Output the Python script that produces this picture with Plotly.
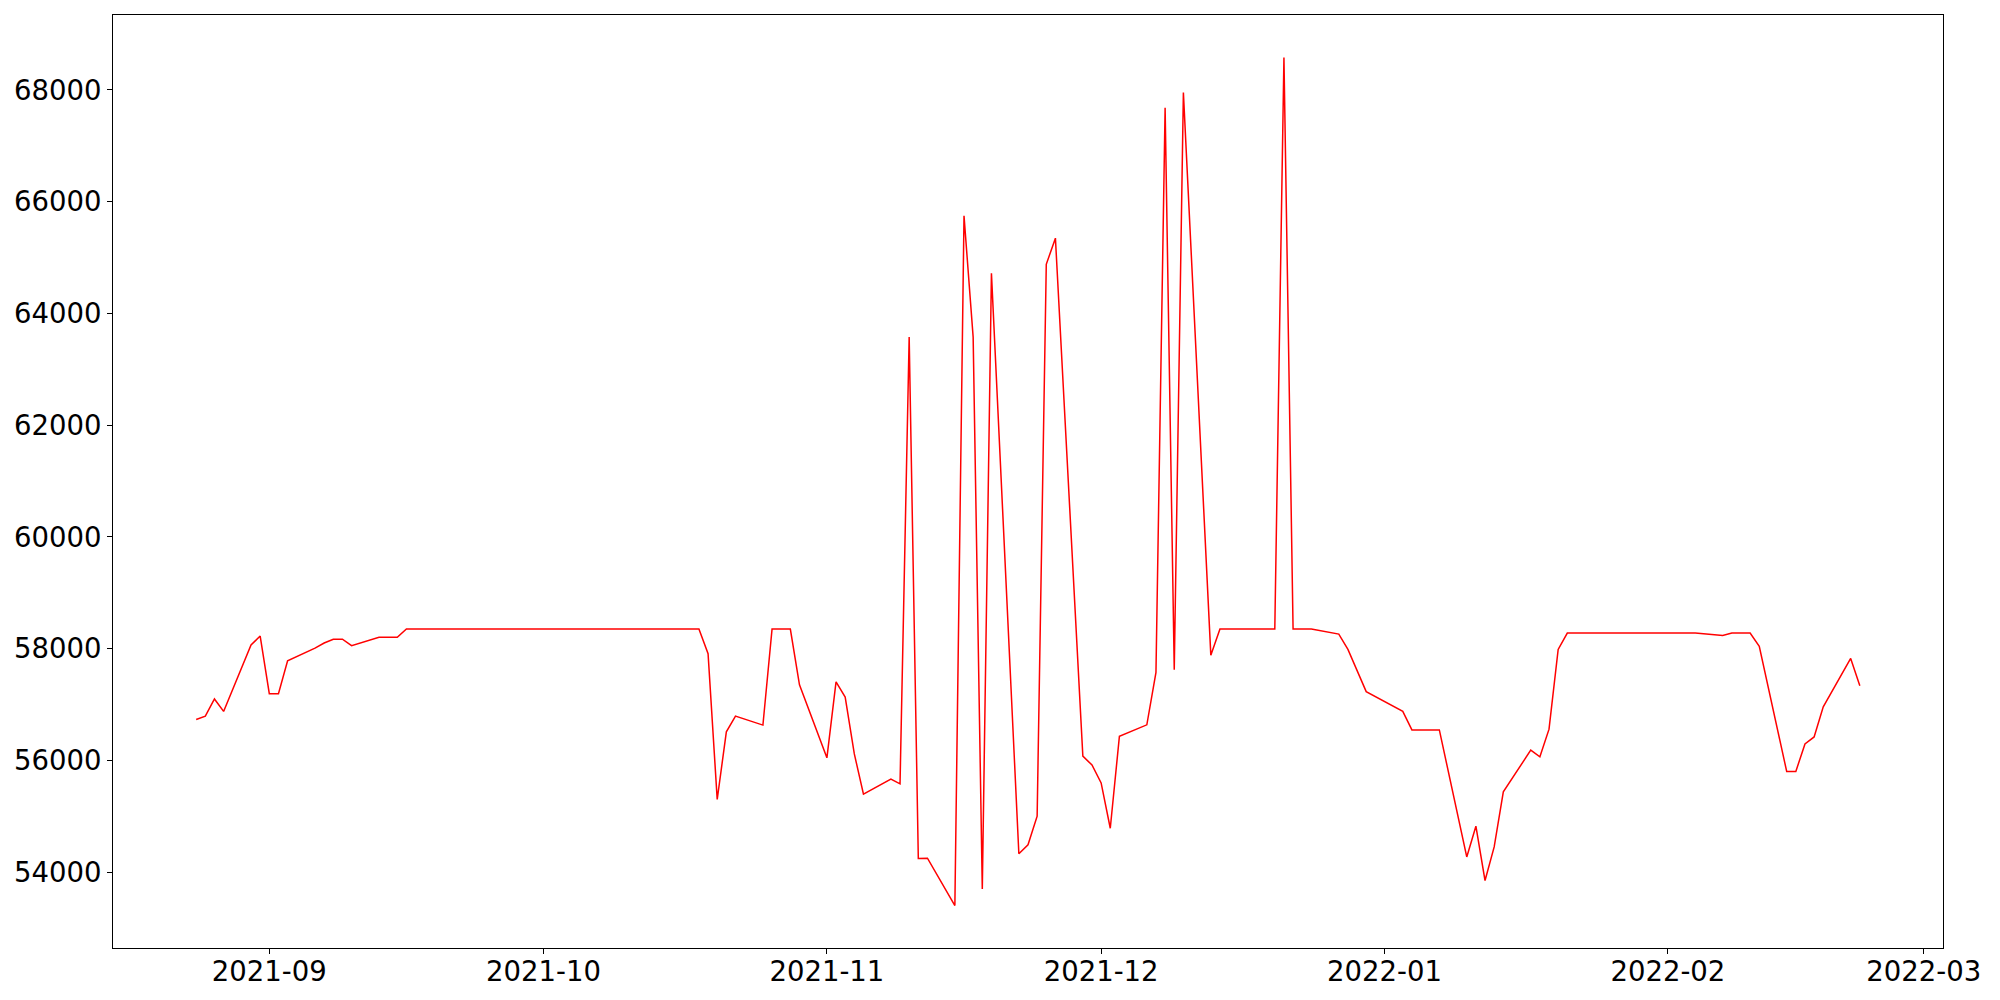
import pandas as pd
import plotly.graph_objects as go

dates = [
    "2021-08-24", "2021-08-25", "2021-08-26", "2021-08-27", "2021-08-30", "2021-08-31",
    "2021-09-01", "2021-09-02", "2021-09-03", "2021-09-06", "2021-09-07", "2021-09-08",
    "2021-09-09", "2021-09-10", "2021-09-13", "2021-09-14", "2021-09-15", "2021-09-16",
    "2021-09-17", "2021-09-20", "2021-09-21", "2021-09-22", "2021-09-23", "2021-09-24",
    "2021-09-27", "2021-09-28", "2021-09-29", "2021-09-30",
    "2021-10-01", "2021-10-04", "2021-10-05", "2021-10-06", "2021-10-07", "2021-10-08",
    "2021-10-11", "2021-10-12", "2021-10-13", "2021-10-14", "2021-10-15", "2021-10-18",
    "2021-10-19", "2021-10-20", "2021-10-21", "2021-10-22", "2021-10-25", "2021-10-26",
    "2021-10-27", "2021-10-28", "2021-10-29",
    "2021-11-01", "2021-11-02", "2021-11-03", "2021-11-04", "2021-11-05", "2021-11-08",
    "2021-11-09", "2021-11-10", "2021-11-11", "2021-11-12", "2021-11-15", "2021-11-16",
    "2021-11-17", "2021-11-18", "2021-11-19", "2021-11-22", "2021-11-23", "2021-11-24",
    "2021-11-25", "2021-11-26", "2021-11-29", "2021-11-30",
    "2021-12-01", "2021-12-02", "2021-12-03", "2021-12-06", "2021-12-07", "2021-12-08",
    "2021-12-09", "2021-12-10", "2021-12-13", "2021-12-14", "2021-12-15", "2021-12-16",
    "2021-12-17", "2021-12-20", "2021-12-21", "2021-12-22", "2021-12-23", "2021-12-24",
    "2021-12-27", "2021-12-28", "2021-12-30",
    "2022-01-03", "2022-01-04", "2022-01-05", "2022-01-06", "2022-01-07", "2022-01-10",
    "2022-01-11", "2022-01-12", "2022-01-13", "2022-01-14", "2022-01-17", "2022-01-18",
    "2022-01-19", "2022-01-20", "2022-01-21", "2022-01-24", "2022-01-25", "2022-01-26",
    "2022-01-27", "2022-01-28", "2022-01-31",
    "2022-02-01", "2022-02-02", "2022-02-03", "2022-02-04", "2022-02-07", "2022-02-08",
    "2022-02-09", "2022-02-10", "2022-02-11", "2022-02-14", "2022-02-15", "2022-02-16",
    "2022-02-17", "2022-02-18", "2022-02-21", "2022-02-22",
]

values = [
    56735, 56793, 57100, 56878, 58067, 58227,
    57195, 57195, 57784, 58010, 58102, 58170,
    58170, 58056, 58204, 58204, 58204, 58353,
    58353, 58353, 58353, 58353, 58353, 58353,
    58353, 58353, 58353, 58353,
    58353, 58353, 58353, 58353, 58353, 58353,
    58353, 58353, 58353, 58353, 58353, 58353,
    57910, 55302, 56513, 56794, 56633, 58353,
    58353, 58353, 57354,
    56047, 57408, 57134, 56118, 55397, 55666,
    55582, 63577, 54245, 54251, 53403, 65748,
    63577, 53701, 64720, 54330, 54490, 55004,
    64880, 65348, 56079, 55919,
    55598, 54787, 56433, 56638, 57576, 67680,
    57622, 67954, 57885, 58353, 58353, 58353,
    58353, 58353, 68583, 58353, 58353, 58353,
    58262, 57987, 57233,
    56879, 56547, 56547, 56547, 56547, 54274,
    54824, 53851, 54453, 55438, 56185, 56065,
    56561, 57988, 58280, 58280, 58280, 58280,
    58280, 58280, 58280,
    58280, 58280, 58280, 58280, 58239, 58280,
    58280, 58280, 58044, 55804, 55804, 56296,
    56421, 56959, 57827, 57336,
]

x = pd.to_datetime(dates)
y = values

# matplotlib-like 5% autoscale margins
xmin, xmax = x.min(), x.max()
xpad = (xmax - xmin) * 0.05
ymin, ymax = min(y), max(y)
ypad = (ymax - ymin) * 0.05

fig = go.Figure()
fig.add_trace(go.Scatter(x=x, y=y, mode="lines",
                         line=dict(color="red", width=1.5), showlegend=False))

axis_common = dict(
    showline=True, linecolor="black", linewidth=1, mirror=True,
    ticks="outside", ticklen=5, tickwidth=1, tickcolor="black",
    showgrid=False, zeroline=False, automargin=False,
    tickfont=dict(family="DejaVu Sans", size=27.5, color="black"),
)

fig.update_layout(
    width=2000, height=1000,
    margin=dict(l=113, r=57, t=15, b=52),
    paper_bgcolor="white", plot_bgcolor="white",
    font=dict(family="DejaVu Sans", size=27.5, color="black"),
    xaxis=dict(range=[xmin - xpad, xmax + xpad], tickformat="%Y-%m",
               dtick="M1", tick0="2021-09-01", ticklabelstandoff=-6,
               **axis_common),
    yaxis=dict(range=[ymin - ypad, ymax + ypad], dtick=2000, tick0=0,
               tickformat="d", **axis_common),
)

fig.write_html("out.html", config={"displayModeBar": False},
               post_script="document.body.style.margin='0';document.body.style.overflow='hidden';")
